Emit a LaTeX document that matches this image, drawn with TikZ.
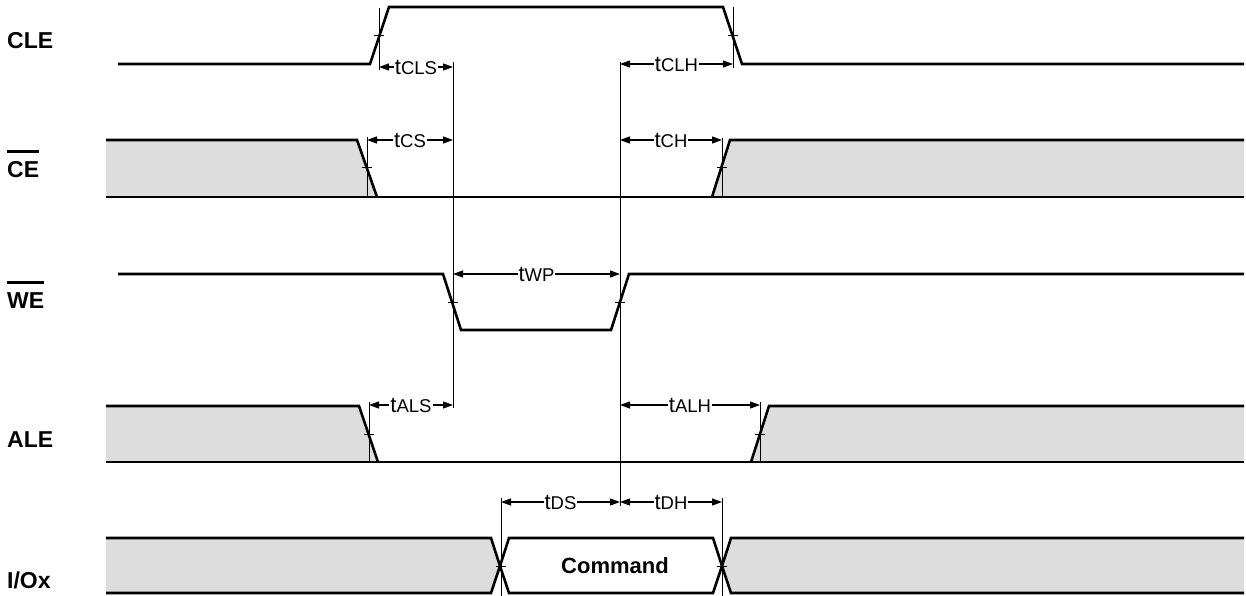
\documentclass[tikz,border=0pt]{standalone}
\usepackage{fontspec}
\setmainfont{Liberation Sans}
\usetikzlibrary{arrows.meta}
\definecolor{busgrey}{RGB}{221,221,221}
\newcommand{\tname}[1]{{\fontsize{22}{22}\selectfont t}{\fontsize{18.5}{18.5}\selectfont #1}}

\begin{document}
\begin{tikzpicture}[
        x=1pt, y=-1pt,
        sig/.style={line width=2.6pt, line join=miter},
        vline/.style={line width=1pt},
        timing/.style={line width=1.2pt, {Triangle[length=10pt,width=7pt]}-{Triangle[length=10pt,width=7pt]}},
        tlab/.style={fill=white, inner sep=1pt},
        siglabel/.style={anchor=west, inner sep=0pt, font=\fontsize{23}{23}\selectfont\bfseries},
    ]
    \useasboundingbox (0,0) rectangle (1246,596);

    % signal names
    \node[siglabel] (cle) at (7,41) {CLE};
    \node[siglabel] (ce) at (7,170) {CE};
    \node[siglabel] (we) at (7,301) {WE};
    \node[siglabel] (ale) at (7,440) {ALE};
    \node[siglabel] (io) at (7,580) {I/Ox};
    \foreach \n in {ce,we}
        \draw[line width=3pt] ([yshift=10pt]\n.north west) -- ([yshift=10pt]\n.north east);

    % CLE
    \draw[sig] (118,64) -- (370,64) -- (389,7) -- (723,7) -- (742,64) -- (1244,64);

    % CE
    \fill[busgrey] (106,140) -- (357,140) -- (377,197) -- (106,197) -- cycle;
    \fill[busgrey] (712,197) -- (730,140) -- (1244,140) -- (1244,197) -- cycle;
    \draw[sig] (106,140) -- (357,140) -- (377,197);
    \draw[sig] (712,197) -- (730,140) -- (1244,140);
    \draw[sig] (106,197) -- (1244,197);

    % WE
    \draw[sig] (118,274) -- (443,274) -- (461,330) -- (611,330) -- (629,274) -- (1244,274);

    % ALE
    \fill[busgrey] (106,406) -- (359,406) -- (378,462) -- (106,462) -- cycle;
    \fill[busgrey] (751,462) -- (769,406) -- (1244,406) -- (1244,462) -- cycle;
    \draw[sig] (106,406) -- (359,406) -- (378,462);
    \draw[sig] (751,462) -- (769,406) -- (1244,406);
    \draw[sig] (106,462) -- (1244,462);

    % I/O bus
    \fill[busgrey] (106,538) -- (491,538) -- (500,566) -- (491,593) -- (106,593) -- cycle;
    \fill[busgrey] (1244,538) -- (731,538) -- (722,566) -- (731,593) -- (1244,593) -- cycle;
    \draw[sig] (106,538) -- (491,538) -- (500,566) -- (491,593) -- (106,593);
    \draw[sig] (509,538) -- (713,538) -- (722,566) -- (713,593) -- (509,593) -- (500,566) -- cycle;
    \draw[sig] (1244,538) -- (731,538) -- (722,566) -- (731,593) -- (1244,593);
    \node[font=\fontsize{22}{22}\selectfont\bfseries] (cmd) at (615,566) {Command};

    % reference lines and ticks
    \foreach \x/\ya/\yb in {379/8/70, 733/7/68, 453/62/408, 620/62/506,
                            367/137/197, 722/138/197, 369/402/462, 760/402/462,
                            501/498/596, 722/498/596}
        \draw[vline] (\x,\ya) -- (\x,\yb);
    \foreach \x/\y in {379/36, 733/36, 367/168, 722/168, 453/302, 620/302,
                       369/434, 760/434, 501/566, 722/566}
        \draw[vline] (\x-5,\y) -- (\x+5,\y);

    % timing arrows
    \coordinate (cls1) at (379,67);  \coordinate (cls2) at (453,67);
    \coordinate (clh1) at (620,64);  \coordinate (clh2) at (733,64);
    \coordinate (cs1) at (367,140);  \coordinate (cs2) at (453,140);
    \coordinate (ch1) at (620,140);  \coordinate (ch2) at (722,140);
    \coordinate (wp1) at (453,274);  \coordinate (wp2) at (620,274);
    \coordinate (als1) at (369,405); \coordinate (als2) at (453,405);
    \coordinate (alh1) at (620,405); \coordinate (alh2) at (760,405);
    \coordinate (ds1) at (501,502);  \coordinate (ds2) at (620,502);
    \coordinate (dh1) at (620,502);  \coordinate (dh2) at (722,502);
    \draw[timing] (cls1) -- node[tlab] {\tname{CLS}} (cls2);
    \draw[timing] (clh1) -- node[tlab] {\tname{CLH}} (clh2);
    \draw[timing] (cs1) -- node[tlab] {\tname{CS}} (cs2);
    \draw[timing] (ch1) -- node[tlab] {\tname{CH}} (ch2);
    \draw[timing] (wp1) -- node[tlab] {\tname{WP}} (wp2);
    \draw[timing] (als1) -- node[tlab] {\tname{ALS}} (als2);
    \draw[timing] (alh1) -- node[tlab] {\tname{ALH}} (alh2);
    \draw[timing] (ds1) -- node[tlab] {\tname{DS}} (ds2);
    \draw[timing] (dh1) -- node[tlab] {\tname{DH}} (dh2);
\end{tikzpicture}
\end{document}
